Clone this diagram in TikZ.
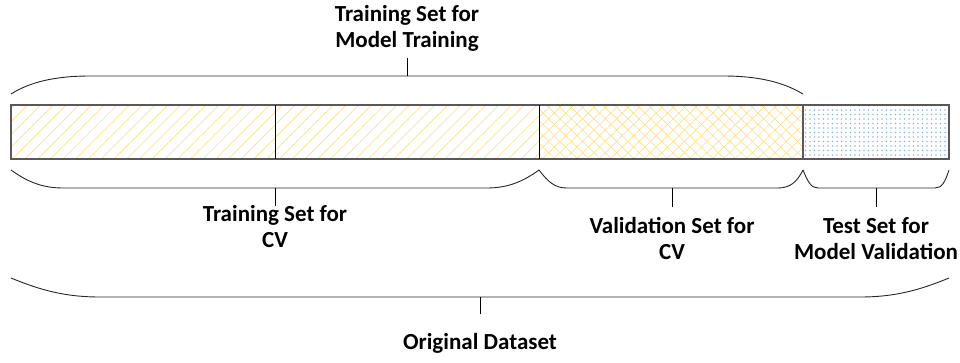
\documentclass[tikz,border=0pt]{standalone}
\usepackage{fontspec}
\setmainfont{Carlito}
\usetikzlibrary{patterns.meta}
\definecolor{hatchyellow}{HTML}{FFE08A}
\definecolor{dotblue}{HTML}{8DB6E2}
\definecolor{framegray}{HTML}{595959}
\begin{document}
\begin{tikzpicture}[x=1pt,y=-1pt,
  cell/.style={draw=none,minimum height=54pt,inner sep=0pt,outer sep=0pt},
  brace/.style={draw=black!85,line width=0.9pt},
  tick/.style={draw=black,line width=1pt},
  lbl/.style={font=\fontsize{23}{26}\selectfont\bfseries,align=center,inner sep=0pt}]
\useasboundingbox (0,0) rectangle (960,362);
% cells
\node[cell,minimum width=264pt,anchor=north west,
  pattern={Lines[angle=45,distance=9pt,line width=0.7pt]},pattern color=hatchyellow] (c1) at (11,105) {};
\node[cell,minimum width=264pt,anchor=north west,
  pattern={Lines[angle=45,distance=9pt,line width=0.7pt]},pattern color=hatchyellow] (c2) at (275,105) {};
\node[cell,minimum width=264pt,anchor=north west,
  pattern={Hatch[angle=45,distance=8pt,line width=0.7pt]},pattern color=hatchyellow] (c3) at (539,105) {};
\node[cell,minimum width=146pt,anchor=north west,
  pattern={Dots[distance=4.5pt,radius=0.8pt]},pattern color=dotblue] (c4) at (803,105) {};
\draw[framegray,line width=1.3pt] (c1.north west) rectangle (c4.south east);
\draw[black,line width=1pt] (c1.north east) -- (c1.south east);
\draw[black,line width=1pt] (c2.north east) -- (c2.south east);
\draw[framegray,line width=1.3pt] (c3.north east) -- (c3.south east);
% top brace
\draw[brace] (11,94) .. controls (30,82) and (55,76) .. (90,76) -- (723,76) .. controls (758,76) and (783,82) .. (803,94);
\coordinate (tt) at (407,76);
\node[lbl,anchor=south] (ltop) at (407,52) {Training Set for\\Model Training};
\draw[tick] (tt) -- (407,58);
% brace 1
\draw[brace] (11,170) .. controls (25,180) and (40,188) .. (63,188) -- (487,188) .. controls (510,188) and (525,180) .. (539,170);
\coordinate (t1) at (275,188);
\node[lbl,anchor=north] (l1) at (275,205) {Training Set for\\CV};
\draw[tick] (t1) -- (275,206);
% brace 2
\draw[brace] (539,170) .. controls (548,182) and (555,188) .. (567,188) -- (778,188) .. controls (790,188) and (797,182) .. (803,170);
\coordinate (t2) at (672,188);
\node[lbl,anchor=north] (l2) at (672,217) {Validation Set for\\CV};
\draw[tick] (t2) -- (672,207);
% brace 3
\draw[brace] (803,170) .. controls (808,182) and (811,188) .. (818,188) -- (935,188) .. controls (942,188) and (945,182) .. (949,170);
\coordinate (t3) at (876,188);
\node[lbl,anchor=north] (l3) at (876,217) {Test Set for\\Model Validation};
\draw[tick] (t3) -- (876,207);
% big brace
\draw[brace] (11,278) .. controls (40,290) and (65,297) .. (100,297) -- (860,297) .. controls (895,297) and (920,290) .. (949,278);
\coordinate (t4) at (480,297);
\node[lbl,anchor=north] (l4) at (480,333) {Original Dataset};
\draw[tick] (t4) -- (480,314);
\end{tikzpicture}
\end{document}
